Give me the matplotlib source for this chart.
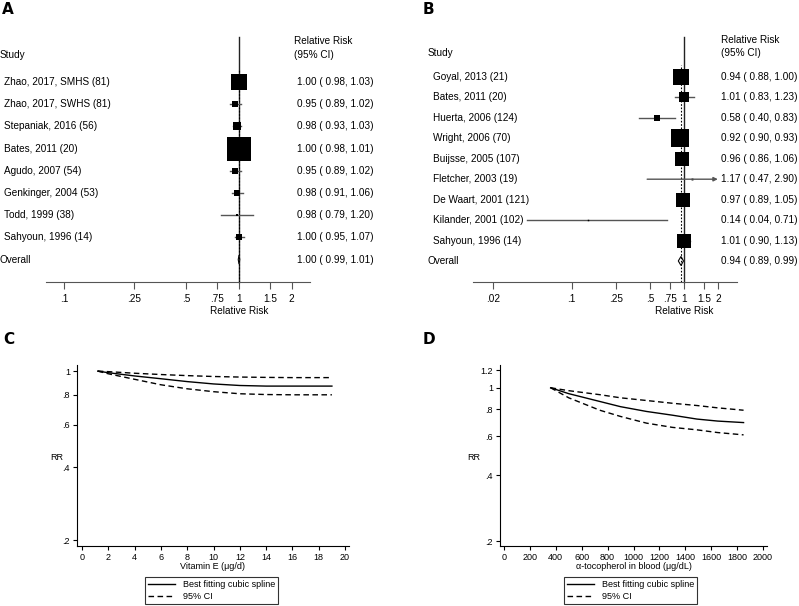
import numpy as np
import matplotlib.pyplot as plt
from matplotlib.patches import Polygon
from matplotlib.transforms import blended_transform_factory

plt.rcParams['font.family'] = ['Liberation Sans', 'DejaVu Sans']

W, H = 799, 606
FS = 7.2

# ==========================
# Data
# ==========================

# Panel A - dietary vitamin E
studies_a = ["Zhao, 2017, SMHS (81)", "Zhao, 2017, SWHS (81)", "Stepaniak, 2016 (56)",
             "Bates, 2011 (20)", "Agudo, 2007 (54)", "Genkinger, 2004 (53)",
             "Todd, 1999 (38)", "Sahyoun, 1996 (14)"]
rr_a = [1.00, 0.95, 0.98, 1.00, 0.95, 0.98, 0.98, 1.00]
lo_a = [0.98, 0.89, 0.93, 0.98, 0.89, 0.91, 0.79, 0.95]
hi_a = [1.03, 1.02, 1.03, 1.01, 1.02, 1.06, 1.20, 1.07]
wt_a = [22, 3, 6, 50, 3, 4, 0.5, 4]
overall_a = [1.00, 0.99, 1.01]

# Panel B - blood alpha-tocopherol
studies_b = ["Goyal, 2013 (21)", "Bates, 2011 (20)", "Huerta, 2006 (124)",
             "Wright, 2006 (70)", "Buijsse, 2005 (107)", "Fletcher, 2003 (19)",
             "De Waart, 2001 (121)", "Kilander, 2001 (102)", "Sahyoun, 1996 (14)"]
rr_b = [0.94, 1.01, 0.58, 0.92, 0.96, 1.17, 0.97, 0.14, 1.01]
lo_b = [0.88, 0.83, 0.40, 0.90, 0.86, 0.47, 0.89, 0.04, 0.90]
hi_b = [1.00, 1.23, 0.83, 0.93, 1.06, 2.90, 1.05, 0.71, 1.13]
wt_b = [18.8, 6.8, 2.1, 27.1, 14.2, 0.3, 16.4, 0.1, 14.2]
overall_b = [0.94, 0.89, 0.99]

fticks_a = [0.1, 0.25, 0.5, 0.75, 1, 1.5, 2]
fticks_b = [0.02, 0.1, 0.25, 0.5, 0.75, 1, 1.5, 2]

# Panel C - dose response, vitamin E intake
dose_c = [1.2, 2, 4, 6, 8, 10, 12, 14, 16, 19]
fit_c = [1.0, 0.985, 0.955, 0.93, 0.905, 0.885, 0.872, 0.867, 0.867, 0.867]
up_c = [1.0, 0.995, 0.98, 0.968, 0.958, 0.95, 0.945, 0.942, 0.94, 0.94]
low_c = [1.0, 0.975, 0.925, 0.878, 0.845, 0.822, 0.806, 0.800, 0.798, 0.798]

# Panel D - dose response, blood alpha-tocopherol
dose_d = [360, 500, 740, 900, 1100, 1300, 1490, 1650, 1850]
fit_d = [1.0, 0.94, 0.866, 0.82, 0.78, 0.75, 0.72, 0.705, 0.694]
up_d = [1.0, 0.97, 0.93, 0.90, 0.875, 0.85, 0.83, 0.81, 0.79]
low_d = [1.0, 0.90, 0.79, 0.74, 0.69, 0.66, 0.643, 0.625, 0.61]


def fmt(v):
    s = f"{v:g}"
    return s[1:] if s.startswith("0.") else s


def px_axes(fig, left, top, right, bottom):
    return fig.add_axes([left / W, 1 - bottom / H, (right - left) / W, (bottom - top) / H])


fig = plt.figure(figsize=(W / 100, H / 100), dpi=100)


# ==========================
# Forest plots
# ==========================

def forest(left, right, one_px, ppl, row0, step, names, rr, lo, hi, wt, overall,
           ticks, name_x, study_x, val_x, head_x, head_y, cap):
    ax = px_axes(fig, left, 30, right, 282)
    ax.set_xscale("log")
    ax.set_xlim(np.exp((left - one_px) / ppl), np.exp((right - one_px) / ppl))
    n = len(names)
    ax.set_ylim((282 - row0) / step, (30 - row0) / step)
    for s in ["top", "left", "right"]:
        ax.spines[s].set_visible(False)
    ax.spines["bottom"].set_color("#555555")
    ax.set_yticks([])
    ax.set_xticks(ticks)
    ax.set_xticklabels([fmt(t) for t in ticks], fontsize=FS)
    ax.minorticks_off()
    ax.tick_params(axis="x", length=5, color="#555555", pad=3.5)

    ybot = (282 - row0) / step
    ax.plot([1, 1], [ybot, (37 - row0) / step], color="#222222", lw=1, clip_on=False)
    ax.plot([overall[0]] * 2, [ybot, -0.6], color="black", lw=0.8,
            linestyle=(0, (1.5, 1.5)), clip_on=False)

    tr = blended_transform_factory(fig.transFigure, ax.transData)
    for i in range(n):
        h = min(hi[i], cap)
        if hi[i] > cap:
            ax.annotate("", xy=(h, i), xytext=(lo[i], i),
                        arrowprops=dict(arrowstyle="-|>", color="#555555", lw=1,
                                        mutation_scale=6, shrinkA=0, shrinkB=0))
        else:
            ax.plot([lo[i], h], [i, i], color="#555555", lw=1)
        side = 3.46 * np.sqrt(wt[i])
        ax.plot(rr[i], i, marker="s", color="black", markersize=max(side, 1.5) * 0.72,
                markeredgewidth=0)
        ax.text(name_x / W, i, names[i], transform=tr, fontsize=FS, va="center")
        ax.text(val_x / W, i, f"{rr[i]:.2f} ( {lo[i]:.2f}, {hi[i]:.2f})",
                transform=tr, fontsize=FS, va="center")

    k = n
    e, l, u = overall
    d = 4.5 / step
    ax.add_patch(Polygon([[l, k], [e, k - d], [u, k], [e, k + d]], closed=True,
                         facecolor="white", edgecolor="black", lw=0.8))
    ax.text(study_x / W, k, "Overall", transform=tr, fontsize=FS, va="center")
    ax.text(val_x / W, k, f"{e:.2f} ( {l:.2f}, {u:.2f})", transform=tr,
            fontsize=FS, va="center")

    fig.text(study_x / W, 1 - head_y[1] / H, "Study", fontsize=FS, va="center")
    fig.text(head_x / W, 1 - head_y[0] / H, "Relative Risk", fontsize=FS, va="center")
    fig.text(head_x / W, 1 - head_y[1] / H, "(95% CI)", fontsize=FS, va="center")
    fig.text(one_px / W, 1 - 311 / H, "Relative Risk", fontsize=FS, ha="center", va="center")
    return ax


forest(46, 310, 239, 76.0, 82, 22.2, studies_a, rr_a, lo_a, hi_a, wt_a, overall_a,
       fticks_a, 4, 0, 297, 294, (41, 55), 2.0)
forest(473, 737, 684, 48.8, 77, 20.44, studies_b, rr_b, lo_b, hi_b, wt_b, overall_b,
       fticks_b, 433, 428, 721, 721, (40, 53), 2.0)


# ==========================
# Dose-response curves
# ==========================

def spline_panel(left, right, xlim, ylim, yticks, xticks, x, fit, up, low,
                 xlabel, rr_x, leg_box):
    ax = px_axes(fig, left, 365, right, 546)
    ax.set_yscale("log")
    ax.set_xlim(*xlim)
    ax.set_ylim(*ylim)
    for s in ["top", "right"]:
        ax.spines[s].set_visible(False)
    ax.set_yticks(yticks)
    ax.set_yticklabels([fmt(t) for t in yticks])
    ax.yaxis.set_minor_locator(plt.NullLocator())
    ax.set_xticks(xticks)
    ax.tick_params(labelsize=6.5, length=3, pad=2)
    ax.plot(x, fit, color="black", lw=1, label="Best fitting cubic spline")
    ax.plot(x, up, color="black", lw=1, linestyle=(0, (4, 2.5)), label="95% CI")
    ax.plot(x, low, color="black", lw=1, linestyle=(0, (4, 2.5)))
    ax.set_xlabel(xlabel, fontsize=6.5, labelpad=0)
    fig.text(rr_x / W, 1 - 457 / H, "RR", fontsize=6.5, va="center")
    l, t, r, b = leg_box
    leg = ax.legend(loc="center", bbox_to_anchor=((l + r) / 2 / W, 1 - (t + b) / 2 / H),
                    bbox_transform=fig.transFigure, fontsize=6.5, frameon=True,
                    fancybox=False, edgecolor="black", borderpad=0.35,
                    labelspacing=0.3, handlelength=3.0, handletextpad=0.9)
    leg.get_frame().set_linewidth(0.8)
    return ax


spline_panel(77, 349, (-0.38, 20.3), (0.189, 1.06), [0.2, 0.4, 0.6, 0.8, 1],
             range(0, 21, 2), dose_c, fit_c, up_c, low_c, "Vitamin E (\u03bcg/d)",
             50, (148, 576, 275, 605))
spline_panel(500, 767, (-31, 2031), (0.19, 1.27), [0.2, 0.4, 0.6, 0.8, 1, 1.2],
             range(0, 2001, 200), dose_d, fit_d, up_d, low_d,
             "\u03b1-tocopherol in blood (\u03bcg/dL)", 467, (568, 576, 693, 605))

# Panel letters
for lab, x, y in [("A", 2, 9), ("B", 423, 9), ("C", 3, 339), ("D", 423, 339)]:
    fig.text(x / W, 1 - y / H, lab, fontsize=11, fontweight="heavy",
             family="DejaVu Sans", va="center")

plt.savefig("out.png", dpi=100)
